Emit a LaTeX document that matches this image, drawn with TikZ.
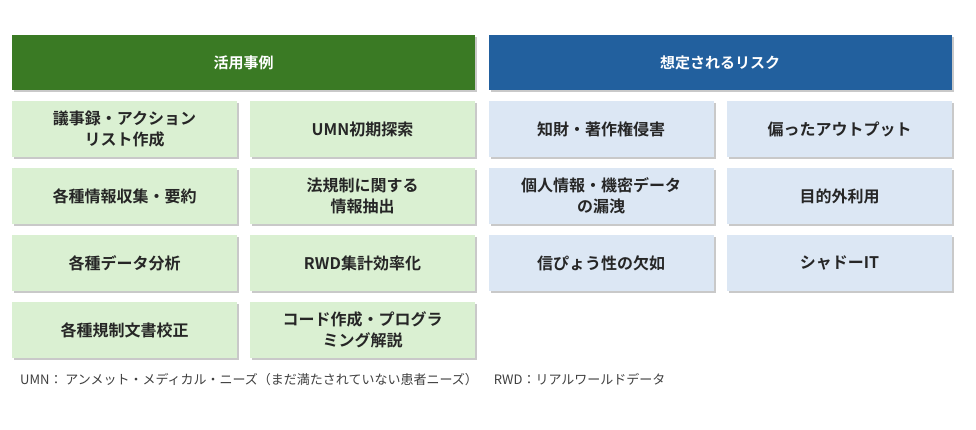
\documentclass[tikz,border=0pt]{standalone}
\usepackage{fontspec}
\newfontfamily\jp{Noto Sans CJK JP}
\newfontfamily\jpb{Noto Sans CJK JP Bold}
\usetikzlibrary{shadows}
\definecolor{hg}{HTML}{3A7A24}
\definecolor{hb}{HTML}{22609E}
\definecolor{lg}{HTML}{DAF0D2}
\definecolor{lb}{HTML}{DCE7F4}
\definecolor{tx}{HTML}{262626}
\tikzset{x=1pt,y=-1pt,
 hdr/.style={minimum width=463pt,minimum height=55pt,inner sep=0pt,text=white,font=\jpb\fontsize{15}{18}\selectfont,drop shadow={shadow xshift=2pt,shadow yshift=-2pt,fill=black!35,opacity=.6}},
 cell/.style={minimum width=225pt,minimum height=56pt,inner sep=0pt,text=tx,align=center,font=\jpb\fontsize{16}{21}\selectfont,drop shadow={shadow xshift=2pt,shadow yshift=-2pt,fill=black!35,opacity=.6}},
 gc/.style={cell,fill=lg},bc/.style={cell,fill=lb}}
\begin{document}
\begin{tikzpicture}
\useasboundingbox[fill=white] (0,0) rectangle (976,429);
\node[hdr,fill=hg] (h1) at (243.5,62.5) {活用事例};
\node[hdr,fill=hb] (h2) at (720,62.5) {想定されるリスク};
\node[gc] (a1) at (124.5,129) {議事録・アクション\\リスト作成};
\node[gc] (a2) at (362.5,129) {UMN初期探索};
\node[gc] (a3) at (124.5,196) {各種情報収集・要約};
\node[gc] (a4) at (362.5,196) {法規制に関する\\情報抽出};
\node[gc] (a5) at (124.5,263) {各種データ分析};
\node[gc] (a6) at (362.5,263) {RWD集計効率化};
\node[gc] (a7) at (124.5,330) {各種規制文書校正};
\node[gc] (a8) at (362.5,330) {コード作成・プログラ\\ミング解説};
\node[bc] (b1) at (601,129) {知財・著作権侵害};
\node[bc] (b2) at (839.5,129) {偏ったアウトプット};
\node[bc] (b3) at (601,196) {個人情報・機密データ\\の漏洩};
\node[bc] (b4) at (839.5,196) {目的外利用};
\node[bc] (b5) at (601,263) {信ぴょう性の欠如};
\node[bc] (b6) at (839.5,263) {シャドーIT};
\node[anchor=west,inner sep=0pt,text=black!75,font=\jp\fontsize{13}{16}\selectfont] (fn) at (20,380) {UMN： アンメット・メディカル・ニーズ（まだ満たされていない患者ニーズ）\quad\ RWD：リアルワールドデータ};
\end{tikzpicture}
\end{document}
